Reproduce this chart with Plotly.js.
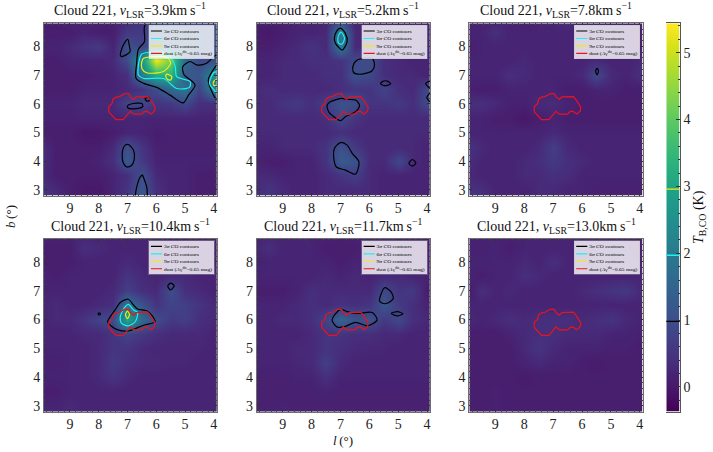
<!DOCTYPE html>
<html><head><meta charset="utf-8">
<script src="https://cdn.plot.ly/plotly-3.0.1.min.js"></script>
<style>html,body{margin:0;padding:0;background:#fff}#g{width:713px;height:452px}</style>
</head><body><div id="g"></div>
<script>
const lon=[10,9.5,9,8.5,8,7.5,7,6.5,6,5.5,5,4.5,4];
const lat=[9,8.5,8,7.5,7,6.5,6,5.5,5,4.5,4,3.5,3];
const speeds=['3.9','5.2','7.8','10.4','11.7','13.0'];
const cbTicks=[0,1,2,3,4,5];
const cbRamp=[-0.5,0,0.5,1,1.5,2,2.5,3,3.5,4,4.5,5,5.5];
const sigmaLevels=[0.98,1.97,2.96];
const sigmaColors=['#000000','#1ff0f0','#eeee10'];

const z1=[
[.15,.15,.2,.2,.2,.1,.3,.5,.9,1,.9,.9,.8],
[.1,.1,.1,.2,.1,.1,.6,.6,1.2,1.3,1.2,1.2,1.1],
[.2,.2,.3,.5,.6,.2,1.1,.8,1.3,1.4,1.3,1.2,1.1],
[.1,.1,.2,.2,.2,.3,1,2.6,5.4,4.2,1.6,.9,1],
[.1,.1,.1,.1,.15,.2,.4,2.1,3.2,3.4,1.2,1.2,2.4],
[.1,.1,.1,.2,.2,.2,.3,.5,1,1.6,1.9,.8,2.2],
[.2,.2,.2,.3,.3,.3,.8,.9,.5,.6,.9,.4,.4],
[.15,.15,.15,.2,.2,.2,.2,.2,.2,.2,.2,.2,.2],
[.1,.1,.1,0,0,.1,.2,.2,.1,.15,.15,.15,.15],
[.4,.1,.1,.1,.1,.3,1.05,.5,.15,.15,.15,.15,.15],
[.4,.1,.1,.1,.2,.4,1.25,.6,.2,.2,.2,.2,.2],
[.3,.1,.1,.1,.1,.2,.4,1.05,.3,.2,.2,.1,.1],
[.5,.3,.1,0,0,.2,.5,1.2,.4,.2,.2,.1,.1]];
const z2=[
[.2,.2,.2,.2,.2,.2,.6,.2,.2,.2,.2,.2,.2],
[.1,0,.1,.2,.2,.3,2.1,.3,.2,.2,.2,.2,.2],
[.1,.1,.2,.3,.5,.3,2.1,.3,.2,.2,.2,.2,.2],
[.2,.2,.3,.3,.4,.4,.5,.9,1,.4,.3,.2,.2],
[.2,.2,.3,.3,.3,.4,.4,1.1,.9,.4,.3,.3,.2],
[.3,.4,.3,.3,.3,.3,.4,.5,.5,.8,.4,.3,.9],
[.3,.3,.5,.6,.4,.7,1.1,1,.5,.5,.6,.4,.9],
[.3,.3,.3,.3,.3,.4,.9,.5,.3,.3,.3,.3,.3],
[.3,.3,.3,.3,.3,.3,.4,.3,.3,.3,.3,.3,.3],
[.2,.2,.3,.3,.3,.5,1.1,.6,.3,.3,.3,.3,.2],
[.2,.1,.1,.2,.2,.5,1.3,1.1,.3,.3,.9,.3,.2],
[.3,.3,.2,.2,.2,.3,.5,.7,.3,.2,.2,.2,.2],
[.3,.5,.3,.2,.2,.3,.3,.3,.3,.2,.2,.2,.2]];
const z3=[
[.1,.2,.15,.2,.1,.2,.3,.5,.2,.2,.2,.2,.2],
[.2,.2,.4,.2,.2,.2,.2,.2,.2,.2,.2,.1,.1],
[.1,.2,.2,.2,.2,.2,.2,.2,.2,.2,.3,.2,.1],
[.2,.2,.2,.2,.3,.2,.2,.2,.2,.3,.2,.2,.3],
[.2,.2,.2,.4,.3,.2,.2,.2,.3,.9,.3,.2,.4],
[.15,.1,.1,.2,.2,.2,.2,.1,.1,.2,.2,.1,.1],
[.4,.4,.3,.15,.15,.3,.35,.2,.1,.1,.1,.1,.1],
[.2,.2,.1,.1,0,.1,.2,.1,.1,.1,.1,.1,.1],
[.2,.2,.2,.2,.2,.2,.3,.2,.2,.2,.2,.2,.2],
[.5,.3,.2,.2,.2,.3,.7,.3,.2,.2,.2,.2,.2],
[.4,.2,.2,.2,.3,.4,.6,.4,.3,.2,.2,.2,.2],
[.3,.2,.2,.2,.3,.3,.4,.35,.2,.2,.2,.2,.2],
[.5,.4,.2,.2,.2,.3,.3,.2,.2,.15,.15,.15,.15]];
const z4=[
[.2,.2,.2,.2,.2,.2,.2,.2,.2,.1,.1,.1,.2],
[.1,.1,.1,.4,.3,.2,.2,.2,.2,.1,.1,.1,.1],
[.1,.1,.1,.2,.2,.2,.3,.2,.2,.2,.2,.1,.1],
[.2,.1,.2,.2,.2,.2,.5,.3,.2,.3,.3,.2,.2],
[.2,.2,.2,.2,.2,.3,.7,.4,.3,1,.4,.3,.2],
[.2,.3,.2,.2,.3,.4,1.9,1.1,.5,.8,.7,.5,.3],
[.2,.3,.3,.5,.8,1,3.1,1.6,1,.6,.7,.4,.3],
[.2,.2,.2,.3,.3,.5,.8,.6,.4,.3,.3,.3,.2],
[.2,.2,.2,.2,.3,.5,.5,.3,.25,.25,.25,.25,.2],
[.15,.15,.2,.2,.3,.6,.4,.3,.3,.25,.25,.2,.2],
[.2,.2,.2,.2,.3,.5,.3,.2,.2,.2,.2,.2,.2],
[.1,.1,.2,.2,.2,.2,.2,.2,.2,.2,.2,.2,.2],
[.2,.2,.3,.2,.2,.2,.2,.2,.2,.2,.2,.2,.2]];
const z5=[
[.2,.2,.2,.2,.2,.2,.15,.2,.2,.2,.2,.2,.15],
[.2,.4,.2,.2,.2,.1,.1,.1,.2,.2,.2,.1,.1],
[.15,.2,.2,.2,.2,.2,.1,.2,.2,.2,.2,.15,.1],
[.2,.2,.2,.2,.2,.3,.2,.3,.2,.3,.3,.2,.2],
[.1,.1,.1,.2,.4,.3,.3,.3,.3,.9,.5,.6,.1],
[.2,.2,.2,.3,.4,.3,.5,.4,.5,1.2,.6,.4,.2],
[.2,.2,.3,.3,.4,.8,1.5,1.1,1.1,.6,.9,.4,.3],
[.2,.2,.2,.2,.3,.5,.5,.4,.4,.3,.3,.2,.2],
[.2,.2,.2,.3,.3,.5,.4,.3,.25,.25,.2,.2,.2],
[.2,.2,.2,.25,.3,.7,.3,.2,.2,.2,.2,.2,.2],
[.15,.15,.15,.2,.2,.4,.2,.2,.2,.2,.2,.2,.2],
[.15,.15,.15,.15,.15,.2,.15,.15,.15,.15,.15,.15,.15],
[.15,.15,.2,.15,.15,.15,.15,.15,.15,.15,.15,.15,.15]];
const z6=[
[.2,.2,.2,.2,.2,.2,.2,.2,.3,.2,.2,.2,.1],
[.15,.15,.2,.1,.2,.2,.2,.2,.3,.2,.2,.2,.1],
[.2,.2,.2,.2,.3,.2,.4,.2,.2,.2,.2,.2,.2],
[.2,.1,.2,.2,.4,.3,.2,.2,.2,.2,.2,.2,.2],
[0,.4,.2,.3,.2,.2,.2,.2,.3,.4,.5,.6,.3],
[.2,.2,.2,.2,.2,.2,.2,.2,.2,.2,.2,.2,.2],
[.3,.2,.3,.4,.3,.4,.4,.4,.3,.4,.5,.3,.2],
[.1,.1,.1,.2,.3,.4,.4,.3,.3,.3,.2,.2,.15],
[.1,.1,.1,.1,.3,.5,.3,.2,.2,.2,.15,.15,.1],
[.1,.1,.1,.1,.2,.3,.2,.2,.1,.05,.1,.1,.1],
[.1,.1,.1,.1,.05,.1,.1,.1,.1,.1,.1,.1,.1],
[.1,.1,.15,.1,.1,.1,.1,.1,.1,.1,.1,.1,.1],
[.1,.1,.15,.1,.1,.1,.1,.1,.1,.1,.1,.1,.1]];

const dustL=[7.1,6.96,6.9,6.78,6.7,6.3,6.2,6.12,6.04,6.06,6.18,6.32,6.43,6.5,6.78,6.9,7.15,7.4,7.65,7.65,7.54,7.5,7.4,7.28,7.1];
const dustB=[6.35,6.35,6.24,6.15,6.24,6.25,6.13,6,5.87,5.75,5.64,5.74,5.72,5.64,5.64,5.74,5.45,5.45,5.72,5.9,6,6.16,6.23,6.25,6.35];

// contour outlines: one [l,b] pair of lists per level, null separates the loops
const p1s3L=[6.39,6.42,6.41,6.62,6.68,6.70,6.44,5.98,5.52,5.06,4.88,4.65,4.88,5.03,5.08,4.82,4.59,4.25,4.01,3.9,null,3.9,4.19,4.01,3.9,null,7.0,6.88,6.5,6.47,6.62,6.97,7.0,null,6.39,6.27,6.21,6.33,6.39,null,6.97,6.79,6.76,6.85,7.02,7.16,7.17,7.08,6.97,null,6.48,6.33,6.31,null,6.73,6.68,6.56,6.48,null,6.99,6.93,6.91,7.2,7.25,7.14,6.99];
const p1s3B=[8.8,8.59,8.16,7.90,7.41,6.88,6.71,6.57,6.30,6.03,6.30,6.65,6.88,7.0,7.29,7.47,7.35,7.41,7.64,7.70,null,7.35,6.83,6.30,6.13,null,5.92,5.99,6.01,5.9,5.84,5.84,5.92,null,6.19,6.22,6.13,6.09,6.19,null,4.58,4.38,4.09,3.86,3.8,3.98,4.38,4.56,4.58,null,3.53,3.1,2.8,null,2.8,3.1,3.45,3.53,null,8.24,7.99,7.81,7.64,7.7,8.05,8.24];
const p1s6L=[6.5,5.69,5.46,5.34,5.29,4.82,4.85,5.29,5.75,6.44,6.62,6.59,6.5,null,3.9,4.01,4.15,4.01,3.9];
const p1s6B=[7.73,7.76,7.55,7.29,6.94,6.77,6.57,6.53,6.88,6.88,7.0,7.52,7.73,null,7.12,7.08,6.71,6.5,6.36];
const p1s9L=[6.44,5.63,5.5,5.75,6.33,6.5,6.5,6.44,null,5.63,5.46,5.5,5.61,5.67,5.63,null,3.9,4.01,4.01,3.9];
const p1s9B=[7.58,7.62,7.41,7.12,7.08,7.23,7.47,7.58,null,7.03,6.94,6.83,6.85,6.97,7.03,null,6.85,6.77,6.65,6.62];

const p2s3L=[7.0,6.83,6.77,6.94,7.17,7.21,7.14,7.0,null,6.42,5.9,5.82,5.9,6.25,6.54,6.57,6.42,null,5.55,5.38,5.26,5.47,5.61,5.55,null,3.9,4.05,3.9,null,3.9,4.01,3.9,null,7.46,7.35,6.94,6.77,6.48,6.34,6.48,6.83,7.0,7.23,7.41,7.46,null,7.0,6.77,6.59,6.36,6.48,6.83,7.14,7.23,7.21,7.0,null,4.51,4.39,4.51,4.63,4.51];
const p2s3B=[8.63,8.45,8.16,7.87,8.1,8.28,8.51,8.63,null,7.52,7.58,7.35,7.15,7.03,7.08,7.29,7.52,null,6.77,6.79,6.69,6.63,6.69,6.77,null,6.79,6.71,6.53,null,6.38,6.22,6.07,null,5.95,6.07,6.19,6.15,6.13,5.95,5.72,5.55,5.41,5.55,5.72,5.95,null,4.65,4.56,4.27,3.98,3.55,3.69,3.8,4.09,4.44,4.65,null,4.06,3.94,3.83,3.92,4.06];
const p2s6L=[6.97,6.86,6.94,7.06,7.09,7.03,6.97];
const p2s6B=[8.49,8.28,8.08,8.1,8.28,8.45,8.49];
const p2s9L=[null];
const p2s9B=[null];

const p3s3L=[5.48,5.43,5.48,5.53,5.48];
const p3s3B=[7.23,7.14,7.0,7.14,7.23];
const p3s6L=[null];
const p3s6B=[null];
const p3s9L=[null];
const p3s9B=[null];

const p4s3L=[7.69,7.43,7.25,6.97,6.79,6.65,6.33,6.16,6.04,6.44,6.97,7.31,7.6,7.69,null,5.5,5.38,5.5,5.6,5.5,null,8.02,7.98,7.94,7.98,8.02];
const p4s3B=[5.92,6.33,6.59,6.7,6.5,6.36,6.3,6.15,5.92,5.8,5.6,5.63,5.8,5.92,null,7.26,7.17,7.02,7.16,7.26,null,6.19,6.23,6.19,6.15,6.19];
const p4s6L=[7.25,7.08,6.97,6.79,6.65,6.73,6.97,7.2,7.25];
const p4s6B=[6.09,6.44,6.52,6.33,6.24,5.92,5.78,5.86,6.09];
const p4s9L=[7.0,6.93,7.0,7.07,7.0];
const p4s9B=[6.29,6.17,6.03,6.17,6.29];

const p5s3L=[7.29,7.0,6.77,6.42,5.9,5.73,6.07,6.48,6.88,7.12,7.29,null,5.47,5.26,5.17,5.38,5.55,5.65,5.47,null,5.24,5.03,4.84,5.03,5.24];
const p5s3B=[5.98,6.35,6.27,6.21,6.24,5.98,5.78,5.9,5.74,5.74,5.98,null,7.1,6.97,6.73,6.56,6.56,6.65,7.1,null,6.21,6.27,6.2,6.12,6.21];
const p5s6L=[null];
const p5s6B=[null];
const p5s9L=[null];
const p5s9B=[null];

const p6s3L=[null];
const p6s3B=[null];
const p6s6L=[null];
const p6s6B=[null];
const p6s9L=[null];
const p6s9B=[null];

const panels=[
 {z:z1,c:[[p1s3L,p1s3B],[p1s6L,p1s6B],[p1s9L,p1s9B]]},
 {z:z2,c:[[p2s3L,p2s3B],[p2s6L,p2s6B],[p2s9L,p2s9B]]},
 {z:z3,c:[[p3s3L,p3s3B],[p3s6L,p3s6B],[p3s9L,p3s9B]]},
 {z:z4,c:[[p4s3L,p4s3B],[p4s6L,p4s6B],[p4s9L,p4s9B]]},
 {z:z5,c:[[p5s3L,p5s3B],[p5s6L,p5s6B],[p5s9L,p5s9B]]},
 {z:z6,c:[[p6s3L,p6s3B],[p6s6L,p6s6B],[p6s9L,p6s9B]]}];

const W=713,H=452;
const colX=[[44,216.7],[256.7,430],[469.3,642.7]];
const rowY=[[23.3,195.7],[238.7,411.7]];
const cbX=[666.3,679.7], cbY=[23.3,411.7];
const zMin=-0.37,zMax=5.44;
const SERIF='"Liberation Serif","Times New Roman",serif';
const entryNames=['3<i>σ</i> CO contours','6<i>σ</i> CO contours','9<i>σ</i> CO contours','dust (<i>A</i><sub>V</sub><sup>dn</sup>=0.65 mag)'];

const data=[],annotations=[];
const layout={width:W,height:H,margin:{l:0,r:0,t:0,b:0},paper_bgcolor:'#fff',plot_bgcolor:'#fff',showlegend:true,font:{family:SERIF,color:'#222',size:13},annotations};
const axisCommon={showgrid:false,zeroline:false,ticks:'inside',ticklen:3,tickwidth:.7,tickcolor:'#333',linecolor:'#6e6e6e',linewidth:.8,showline:true,mirror:'allticks',dtick:1,
  minor:{ticks:'inside',ticklen:1.5,tickwidth:.4,tickcolor:'#444',dtick:0.2,showgrid:false},tickfont:{family:SERIF,size:14,color:'#222'},layer:'above traces'};

panels.forEach((p,i)=>{
  const n=i+1,r=Math.floor(i/3),c=i%3;
  const xa='x'+(n>1?n:''),ya='y'+(n>1?n:''),lg='legend'+(n>1?n:'');
  data.push({type:'heatmap',x:lon,y:lat,z:p.z,xaxis:xa,yaxis:ya,colorscale:'Viridis',zmin:zMin,zmax:zMax,zsmooth:'best',showscale:false,hoverinfo:'skip',showlegend:false});
  p.c.forEach((cc,k)=>{
    data.push({type:'scatter',mode:'lines',x:cc[0],y:cc[1],xaxis:xa,yaxis:ya,name:entryNames[k],legend:lg,showlegend:true,
      line:{color:sigmaColors[k],width:1.2,shape:'spline',smoothing:.8},hoverinfo:'skip',connectgaps:false});
  });
  data.push({type:'scatter',mode:'lines',x:dustL,y:dustB,xaxis:xa,yaxis:ya,name:entryNames[3],legend:lg,showlegend:true,
    line:{color:'#e8141c',width:1.2},hoverinfo:'skip'});
  layout['xaxis'+(n>1?n:'')]=Object.assign({},axisCommon,{domain:[colX[c][0]/W,colX[c][1]/W],range:[9.9,3.9],anchor:ya,tick0:4});
  layout['yaxis'+(n>1?n:'')]=Object.assign({},axisCommon,{domain:[1-rowY[r][1]/H,1-rowY[r][0]/H],range:[2.8,8.8],anchor:xa,tick0:3});
  layout[lg]={bgcolor:'rgba(255,255,255,0.8)',bordercolor:'#bbb',borderwidth:1,font:{family:SERIF,size:15,color:'#000'},x:0,y:1,traceorder:'normal',tracegroupgap:0};
  annotations.push({xref:'paper',yref:'paper',xanchor:'center',yanchor:'bottom',showarrow:false,
    x:(colX[c][0]+colX[c][1])/2/W,y:1-(rowY[r][0]-1)/H,font:{family:SERIF,size:14,color:'#111'},
    text:'Cloud 221, <i>v</i><sub>LSR</sub>='+speeds[i]+'km\u2009s<sup>−1</sup>'});
});

// colour scale panel
data.push({type:'heatmap',x:[0,1],y:cbRamp,z:cbRamp.map(v=>[v,v]),xaxis:'x7',yaxis:'y7',colorscale:'Viridis',zmin:zMin,zmax:zMax,zsmooth:'best',showscale:false,hoverinfo:'skip',showlegend:false});
sigmaLevels.forEach((lv,k)=>data.push({type:'scatter',mode:'lines',x:[-1,2],y:[lv,lv],xaxis:'x7',yaxis:'y7',showlegend:false,hoverinfo:'skip',line:{color:sigmaColors[k],width:1.3}}));
layout.xaxis7={domain:[cbX[0]/W,cbX[1]/W],range:[0,1],anchor:'y7',showticklabels:false,ticks:'',showgrid:false,zeroline:false,showline:true,linecolor:'#555',linewidth:.8,mirror:true,layer:'above traces'};
layout.yaxis7={domain:[1-cbY[1]/H,1-cbY[0]/H],range:[zMin,zMax],anchor:'x7',side:'right',tickvals:cbTicks,ticks:'inside',ticklen:3.5,tickwidth:.7,tickcolor:'#333',
  minor:{ticks:'inside',ticklen:1.8,tickwidth:.6,tickcolor:'#333',dtick:0.2,tick0:0,showgrid:false},showgrid:false,zeroline:false,showline:true,linecolor:'#555',linewidth:.8,tickfont:{family:SERIF,size:14,color:'#222'},layer:'above traces'};

annotations.push({xref:'paper',yref:'paper',x:343/W,y:1-440/H,xanchor:'center',yanchor:'middle',showarrow:false,font:{family:SERIF,size:13,color:'#111'},text:'<i>l</i>\u2009(°)'});
annotations.push({xref:'paper',yref:'paper',x:10/W,y:1-217/H,xanchor:'center',yanchor:'middle',showarrow:false,textangle:-90,font:{family:SERIF,size:13,color:'#111'},text:'<i>b</i>\u2009(°)'});
annotations.push({xref:'paper',yref:'paper',x:699/W,y:1-217/H,xanchor:'center',yanchor:'middle',showarrow:false,textangle:-90,font:{family:SERIF,size:14,color:'#111'},text:'<i>T</i><sub>B,CO</sub> (K)'});

Plotly.newPlot('g',data,layout,{displayModeBar:false,responsive:false}).then(gd=>{
  // fit each legend into the compact box of the original figure
  panels.forEach((p,idx)=>{
    const g=gd.querySelector('g.infolayer > g.legend'+(idx>0?idx+1:''));
    if(!g) return;
    const bg=g.querySelector('rect.bg');
    const w=+bg.getAttribute('width'),h=+bg.getAttribute('height');
    const r=Math.floor(idx/3),c=idx%3;
    const sx=65.6/w,sy=33.4/h;
    g.setAttribute('transform','translate('+(colX[c][0]+104.7)+','+(rowY[r][0]+2)+') scale('+sx+','+sy+')');
    g.querySelectorAll('.legendlines path').forEach(el=>{el.style.strokeWidth='3.4px';});
  });
});
</script></body></html>
